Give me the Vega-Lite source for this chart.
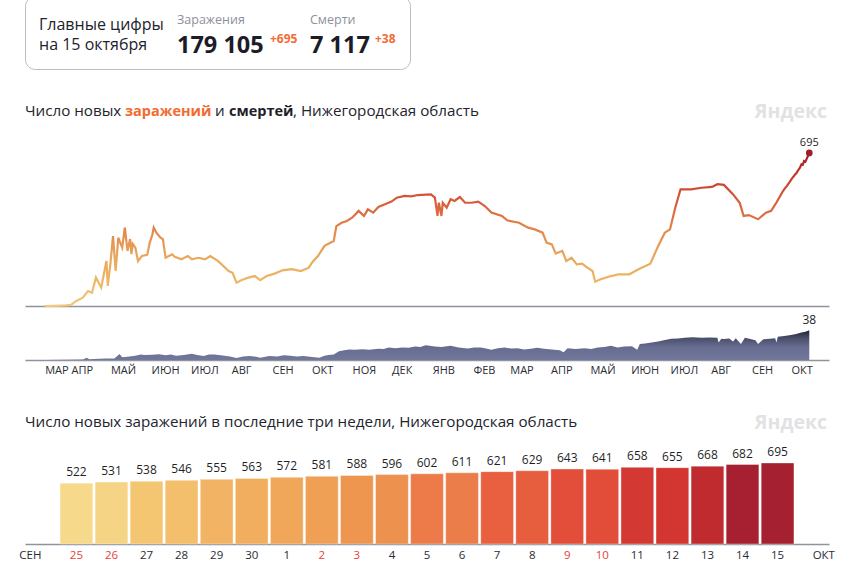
{
  "$schema": "https://vega.github.io/schema/vega-lite/v6.json",
  "padding": {"left": 18, "top": -5, "right": 18, "bottom": 8},
  "bounds": "flush",
  "spacing": 10,
  "datasets": {
    "line": [
      {"date": "2020-03-12", "v": 0}, {"date": "2020-03-20", "v": 1}, {"date": "2020-03-28", "v": 3},
      {"date": "2020-04-01", "v": 5}, {"date": "2020-04-05", "v": 23}, {"date": "2020-04-10", "v": 38},
      {"date": "2020-04-14", "v": 68}, {"date": "2020-04-17", "v": 60}, {"date": "2020-04-20", "v": 129},
      {"date": "2020-04-24", "v": 83}, {"date": "2020-04-28", "v": 204}, {"date": "2020-04-29", "v": 91},
      {"date": "2020-05-01", "v": 191}, {"date": "2020-05-03", "v": 318}, {"date": "2020-05-05", "v": 159},
      {"date": "2020-05-07", "v": 310}, {"date": "2020-05-10", "v": 265}, {"date": "2020-05-12", "v": 356},
      {"date": "2020-05-14", "v": 250}, {"date": "2020-05-16", "v": 304}, {"date": "2020-05-17", "v": 236},
      {"date": "2020-05-18", "v": 282}, {"date": "2020-05-20", "v": 265}, {"date": "2020-05-22", "v": 204},
      {"date": "2020-05-25", "v": 227}, {"date": "2020-05-29", "v": 232}, {"date": "2020-05-31", "v": 288},
      {"date": "2020-06-02", "v": 326}, {"date": "2020-06-03", "v": 356}, {"date": "2020-06-05", "v": 333},
      {"date": "2020-06-08", "v": 311}, {"date": "2020-06-10", "v": 303}, {"date": "2020-06-12", "v": 219},
      {"date": "2020-06-17", "v": 235}, {"date": "2020-06-19", "v": 223}, {"date": "2020-06-24", "v": 212},
      {"date": "2020-06-29", "v": 227}, {"date": "2020-07-02", "v": 212}, {"date": "2020-07-07", "v": 219},
      {"date": "2020-07-12", "v": 212}, {"date": "2020-07-16", "v": 227}, {"date": "2020-07-20", "v": 212},
      {"date": "2020-07-22", "v": 204}, {"date": "2020-07-26", "v": 182}, {"date": "2020-07-30", "v": 159},
      {"date": "2020-08-02", "v": 151}, {"date": "2020-08-05", "v": 106}, {"date": "2020-08-09", "v": 118},
      {"date": "2020-08-14", "v": 129}, {"date": "2020-08-19", "v": 136}, {"date": "2020-08-23", "v": 117},
      {"date": "2020-08-28", "v": 136}, {"date": "2020-09-03", "v": 147}, {"date": "2020-09-09", "v": 162},
      {"date": "2020-09-16", "v": 167}, {"date": "2020-09-23", "v": 159}, {"date": "2020-09-29", "v": 174},
      {"date": "2020-10-02", "v": 201}, {"date": "2020-10-06", "v": 227}, {"date": "2020-10-11", "v": 273},
      {"date": "2020-10-18", "v": 295}, {"date": "2020-10-20", "v": 363}, {"date": "2020-10-24", "v": 378},
      {"date": "2020-10-28", "v": 386}, {"date": "2020-11-01", "v": 401}, {"date": "2020-11-06", "v": 432},
      {"date": "2020-11-10", "v": 409}, {"date": "2020-11-13", "v": 439}, {"date": "2020-11-17", "v": 424},
      {"date": "2020-11-21", "v": 450}, {"date": "2020-11-26", "v": 462}, {"date": "2020-12-01", "v": 474},
      {"date": "2020-12-05", "v": 492}, {"date": "2020-12-11", "v": 500}, {"date": "2020-12-16", "v": 498},
      {"date": "2020-12-21", "v": 504}, {"date": "2020-12-31", "v": 507}, {"date": "2021-01-03", "v": 492},
      {"date": "2021-01-05", "v": 409}, {"date": "2021-01-06", "v": 469}, {"date": "2021-01-08", "v": 409},
      {"date": "2021-01-09", "v": 469}, {"date": "2021-01-12", "v": 447}, {"date": "2021-01-15", "v": 485},
      {"date": "2021-01-18", "v": 477}, {"date": "2021-01-22", "v": 495}, {"date": "2021-01-26", "v": 469},
      {"date": "2021-01-31", "v": 469}, {"date": "2021-02-05", "v": 474}, {"date": "2021-02-10", "v": 454},
      {"date": "2021-02-15", "v": 424}, {"date": "2021-02-23", "v": 409}, {"date": "2021-02-27", "v": 389},
      {"date": "2021-03-08", "v": 378}, {"date": "2021-03-15", "v": 356}, {"date": "2021-03-20", "v": 348},
      {"date": "2021-03-26", "v": 333}, {"date": "2021-03-29", "v": 288}, {"date": "2021-04-02", "v": 280},
      {"date": "2021-04-05", "v": 238}, {"date": "2021-04-10", "v": 250}, {"date": "2021-04-13", "v": 204},
      {"date": "2021-04-17", "v": 219}, {"date": "2021-04-21", "v": 189}, {"date": "2021-04-25", "v": 192},
      {"date": "2021-04-29", "v": 174}, {"date": "2021-05-03", "v": 159}, {"date": "2021-05-05", "v": 110},
      {"date": "2021-05-09", "v": 121}, {"date": "2021-05-17", "v": 136}, {"date": "2021-05-23", "v": 144},
      {"date": "2021-05-31", "v": 144}, {"date": "2021-06-07", "v": 167}, {"date": "2021-06-16", "v": 192},
      {"date": "2021-06-22", "v": 273}, {"date": "2021-06-27", "v": 333}, {"date": "2021-07-01", "v": 348},
      {"date": "2021-07-05", "v": 447}, {"date": "2021-07-09", "v": 530}, {"date": "2021-07-17", "v": 530},
      {"date": "2021-07-25", "v": 537}, {"date": "2021-08-02", "v": 541}, {"date": "2021-08-06", "v": 553},
      {"date": "2021-08-11", "v": 550}, {"date": "2021-08-18", "v": 507}, {"date": "2021-08-23", "v": 469},
      {"date": "2021-08-26", "v": 409}, {"date": "2021-08-30", "v": 413}, {"date": "2021-09-06", "v": 394},
      {"date": "2021-09-12", "v": 424}, {"date": "2021-09-16", "v": 432}, {"date": "2021-09-20", "v": 470},
      {"date": "2021-09-25", "v": 522}, {"date": "2021-09-26", "v": 531}, {"date": "2021-09-27", "v": 538},
      {"date": "2021-09-28", "v": 546}, {"date": "2021-09-29", "v": 555}, {"date": "2021-09-30", "v": 563},
      {"date": "2021-10-01", "v": 572}, {"date": "2021-10-02", "v": 581}, {"date": "2021-10-03", "v": 588},
      {"date": "2021-10-04", "v": 596}, {"date": "2021-10-05", "v": 602}, {"date": "2021-10-06", "v": 611},
      {"date": "2021-10-07", "v": 621}, {"date": "2021-10-08", "v": 629}, {"date": "2021-10-09", "v": 643},
      {"date": "2021-10-10", "v": 641}, {"date": "2021-10-11", "v": 658}, {"date": "2021-10-12", "v": 655},
      {"date": "2021-10-13", "v": 668}, {"date": "2021-10-14", "v": 682}, {"date": "2021-10-15", "v": 695}
    ],
    "deaths": [
      {"date": "2020-03-12", "d": 0}, {"date": "2020-04-10", "d": 0.5}, {"date": "2020-04-13", "d": 3},
      {"date": "2020-04-15", "d": 1}, {"date": "2020-04-22", "d": 1.5}, {"date": "2020-04-28", "d": 2},
      {"date": "2020-05-04", "d": 2}, {"date": "2020-05-08", "d": 7.5}, {"date": "2020-05-10", "d": 3.5},
      {"date": "2020-05-14", "d": 4}, {"date": "2020-05-20", "d": 5.5}, {"date": "2020-05-24", "d": 7},
      {"date": "2020-05-27", "d": 6.5}, {"date": "2020-06-02", "d": 6.7}, {"date": "2020-06-07", "d": 7.2},
      {"date": "2020-06-12", "d": 5.9}, {"date": "2020-06-16", "d": 7}, {"date": "2020-06-20", "d": 5.5},
      {"date": "2020-06-26", "d": 6.5}, {"date": "2020-07-02", "d": 8}, {"date": "2020-07-06", "d": 6.5},
      {"date": "2020-07-11", "d": 5.2}, {"date": "2020-07-15", "d": 7}, {"date": "2020-07-19", "d": 7.1},
      {"date": "2020-07-24", "d": 6}, {"date": "2020-07-31", "d": 4.6}, {"date": "2020-08-05", "d": 2.5},
      {"date": "2020-08-10", "d": 4.5}, {"date": "2020-08-15", "d": 5}, {"date": "2020-08-20", "d": 4},
      {"date": "2020-08-23", "d": 2.8}, {"date": "2020-08-30", "d": 5}, {"date": "2020-09-05", "d": 4.5},
      {"date": "2020-09-10", "d": 6}, {"date": "2020-09-15", "d": 5.5}, {"date": "2020-09-20", "d": 4.5},
      {"date": "2020-09-25", "d": 5}, {"date": "2020-09-30", "d": 4}, {"date": "2020-10-07", "d": 3},
      {"date": "2020-10-11", "d": 5.5}, {"date": "2020-10-14", "d": 6.5}, {"date": "2020-10-18", "d": 7},
      {"date": "2020-10-22", "d": 11}, {"date": "2020-10-26", "d": 12.5}, {"date": "2020-10-30", "d": 13.4},
      {"date": "2020-11-03", "d": 13}, {"date": "2020-11-09", "d": 13.8}, {"date": "2020-11-14", "d": 13.2},
      {"date": "2020-11-21", "d": 14.2}, {"date": "2020-11-25", "d": 14}, {"date": "2020-11-29", "d": 15.9},
      {"date": "2020-12-04", "d": 15}, {"date": "2020-12-09", "d": 15.9}, {"date": "2020-12-14", "d": 15.5},
      {"date": "2020-12-19", "d": 17.2}, {"date": "2020-12-23", "d": 16.5}, {"date": "2020-12-27", "d": 18.8},
      {"date": "2021-01-03", "d": 17.2}, {"date": "2021-01-08", "d": 16.5}, {"date": "2021-01-15", "d": 18},
      {"date": "2021-01-21", "d": 16}, {"date": "2021-01-28", "d": 14.6}, {"date": "2021-02-02", "d": 16},
      {"date": "2021-02-07", "d": 15.9}, {"date": "2021-02-11", "d": 14.5}, {"date": "2021-02-15", "d": 13},
      {"date": "2021-02-20", "d": 15}, {"date": "2021-02-25", "d": 15.9}, {"date": "2021-03-02", "d": 14.5},
      {"date": "2021-03-07", "d": 15}, {"date": "2021-03-12", "d": 13.5}, {"date": "2021-03-17", "d": 14.2},
      {"date": "2021-03-22", "d": 15.5}, {"date": "2021-03-27", "d": 14.2}, {"date": "2021-04-04", "d": 13},
      {"date": "2021-04-08", "d": 12.5}, {"date": "2021-04-11", "d": 10}, {"date": "2021-04-14", "d": 15},
      {"date": "2021-04-20", "d": 14}, {"date": "2021-04-27", "d": 15}, {"date": "2021-05-02", "d": 14},
      {"date": "2021-05-07", "d": 15.9}, {"date": "2021-05-12", "d": 16.5}, {"date": "2021-05-17", "d": 18},
      {"date": "2021-05-22", "d": 16}, {"date": "2021-05-27", "d": 17.2}, {"date": "2021-06-02", "d": 17.5},
      {"date": "2021-06-06", "d": 13}, {"date": "2021-06-08", "d": 20.5}, {"date": "2021-06-12", "d": 21},
      {"date": "2021-06-17", "d": 22.2}, {"date": "2021-06-22", "d": 23.5}, {"date": "2021-06-27", "d": 25.5},
      {"date": "2021-07-02", "d": 27}, {"date": "2021-07-07", "d": 27.5}, {"date": "2021-07-12", "d": 28.4},
      {"date": "2021-07-18", "d": 28.8}, {"date": "2021-07-25", "d": 28.4}, {"date": "2021-07-31", "d": 28.6},
      {"date": "2021-08-06", "d": 28.4}, {"date": "2021-08-07", "d": 22.2}, {"date": "2021-08-09", "d": 27},
      {"date": "2021-08-11", "d": 26.8}, {"date": "2021-08-15", "d": 27.5}, {"date": "2021-08-18", "d": 23.4},
      {"date": "2021-08-20", "d": 27.6}, {"date": "2021-08-24", "d": 20.5}, {"date": "2021-08-27", "d": 28.4},
      {"date": "2021-09-01", "d": 26.4}, {"date": "2021-09-04", "d": 25}, {"date": "2021-09-06", "d": 20.5},
      {"date": "2021-09-10", "d": 26.4}, {"date": "2021-09-15", "d": 27}, {"date": "2021-09-19", "d": 27.6},
      {"date": "2021-09-20", "d": 22.2}, {"date": "2021-09-21", "d": 29.7}, {"date": "2021-09-26", "d": 30.5},
      {"date": "2021-10-01", "d": 31.8}, {"date": "2021-10-05", "d": 33}, {"date": "2021-10-09", "d": 35.1},
      {"date": "2021-10-12", "d": 36}, {"date": "2021-10-15", "d": 38}
    ],
    "bars": [
      {"day": "25", "v": 522}, {"day": "26", "v": 531}, {"day": "27", "v": 538}, {"day": "28", "v": 546},
      {"day": "29", "v": 555}, {"day": "30", "v": 563}, {"day": "1", "v": 572}, {"day": "2", "v": 581},
      {"day": "3", "v": 588}, {"day": "4", "v": 596}, {"day": "5", "v": 602}, {"day": "6", "v": 611},
      {"day": "7", "v": 621}, {"day": "8", "v": 629}, {"day": "9", "v": 643}, {"day": "10", "v": 641},
      {"day": "11", "v": 658}, {"day": "12", "v": 655}, {"day": "13", "v": 668}, {"day": "14", "v": 682},
      {"day": "15", "v": 695}
    ]
  },
  "vconcat": [
    {
      "width": 385,
      "height": 73,
      "view": {"stroke": "#b9bdc6", "strokeWidth": 1, "cornerRadius": 10},
      "data": {"values": [{}]},
      "layer": [
        {"mark": {"type": "text", "text": "Главные цифры", "align": "left", "baseline": "alphabetic", "fontSize": 16, "color": "#23232d"},
         "encoding": {"x": {"value": 14}, "y": {"value": 34}}},
        {"mark": {"type": "text", "text": "на 15 октября", "align": "left", "baseline": "alphabetic", "fontSize": 16, "color": "#23232d"},
         "encoding": {"x": {"value": 14}, "y": {"value": 54}}},
        {"mark": {"type": "text", "text": "Заражения", "align": "left", "baseline": "alphabetic", "fontSize": 12.5, "color": "#8d919b"},
         "encoding": {"x": {"value": 152}, "y": {"value": 28}}},
        {"mark": {"type": "text", "text": "179 105", "align": "left", "baseline": "alphabetic", "fontSize": 23.5, "fontWeight": "bold", "color": "#1c1c28"},
         "encoding": {"x": {"value": 152}, "y": {"value": 57}}},
        {"mark": {"type": "text", "text": "+695", "align": "left", "baseline": "alphabetic", "fontSize": 12, "fontWeight": "bold", "color": "#f36c37"},
         "encoding": {"x": {"value": 245}, "y": {"value": 47}}},
        {"mark": {"type": "text", "text": "Смерти", "align": "left", "baseline": "alphabetic", "fontSize": 12.5, "color": "#8d919b"},
         "encoding": {"x": {"value": 285}, "y": {"value": 28}}},
        {"mark": {"type": "text", "text": "7 117", "align": "left", "baseline": "alphabetic", "fontSize": 23.5, "fontWeight": "bold", "color": "#1c1c28"},
         "encoding": {"x": {"value": 285}, "y": {"value": 57}}},
        {"mark": {"type": "text", "text": "+38", "align": "left", "baseline": "alphabetic", "fontSize": 12, "fontWeight": "bold", "color": "#f36c37"},
         "encoding": {"x": {"value": 350}, "y": {"value": 47}}}
      ]
    },
    {
      "width": 804,
      "height": 227,
      "layer": [
        {
          "data": {"name": "line"},
          "mark": {
            "type": "line",
            "strokeWidth": 2.2,
            "stroke": {
              "gradient": "linear", "x1": 0, "y1": 1, "x2": 0, "y2": 0,
              "stops": [
                {"offset": 0, "color": "#f2c77a"},
                {"offset": 0.18, "color": "#ecb563"},
                {"offset": 0.32, "color": "#e9a85c"},
                {"offset": 0.45, "color": "#e4904f"},
                {"offset": 0.55, "color": "#e07a46"},
                {"offset": 0.65, "color": "#da633d"},
                {"offset": 0.75, "color": "#d24f34"},
                {"offset": 0.82, "color": "#c9422f"},
                {"offset": 0.9, "color": "#b83129"},
                {"offset": 1, "color": "#9e1c2c"}
              ]
            }
          },
          "encoding": {
            "x": {
              "field": "date", "type": "temporal",
              "scale": {"type": "utc", "nice": false, "domain": [{"year": 2020, "month": 2, "date": 26, "utc": true}, {"year": 2021, "month": 10, "date": 30, "utc": true}]},
              "axis": {"labels": false, "ticks": false, "grid": false, "title": null, "domainColor": "#8f939d", "domainWidth": 1.5}
            },
            "y": {"field": "v", "type": "quantitative", "scale": {"domain": [0, 1031], "nice": false}, "axis": null}
          }
        },
        {
          "data": {"name": "line"},
          "transform": [{"filter": "datum.v == 695"}],
          "mark": {"type": "point", "filled": true, "size": 45, "color": "#a11d2b", "opacity": 1},
          "encoding": {
            "x": {"field": "date", "type": "temporal"},
            "y": {"field": "v", "type": "quantitative"}
          }
        },
        {
          "data": {"name": "line"},
          "transform": [{"filter": "datum.v == 695"}],
          "mark": {"type": "text", "baseline": "bottom", "dy": -5, "fontSize": 11, "color": "#1f1f28"},
          "encoding": {
            "x": {"field": "date", "type": "temporal"},
            "y": {"field": "v", "type": "quantitative"},
            "text": {"field": "v"}
          }
        },
        {"data": {"values": [{}]}, "mark": {"type": "text", "text": "Число новых ", "align": "left", "baseline": "alphabetic", "fontSize": 15.2, "color": "#23232d"},
         "encoding": {"x": {"value": 0}, "y": {"value": 37}}},
        {"data": {"values": [{}]}, "mark": {"type": "text", "text": "заражений", "align": "left", "baseline": "alphabetic", "fontSize": 14.5, "fontWeight": "bold", "color": "#f26b2f", "dx": 100},
         "encoding": {"x": {"value": 0}, "y": {"value": 37}}},
        {"data": {"values": [{}]}, "mark": {"type": "text", "text": "и", "align": "left", "baseline": "alphabetic", "fontSize": 15.2, "color": "#23232d", "dx": 190},
         "encoding": {"x": {"value": 0}, "y": {"value": 37}}},
        {"data": {"values": [{}]}, "mark": {"type": "text", "text": "смертей", "align": "left", "baseline": "alphabetic", "fontSize": 14.5, "fontWeight": "bold", "color": "#1e1e2a", "dx": 204},
         "encoding": {"x": {"value": 0}, "y": {"value": 37}}},
        {"data": {"values": [{}]}, "mark": {"type": "text", "text": ", Нижегородская область", "align": "left", "baseline": "alphabetic", "fontSize": 15.2, "color": "#23232d", "dx": 268},
         "encoding": {"x": {"value": 0}, "y": {"value": 37}}},
        {"data": {"values": [{}]}, "mark": {"type": "text", "text": "Яндекс", "align": "right", "baseline": "alphabetic", "fontSize": 19.5, "fontWeight": "bold", "color": "#e2e2e4"},
         "encoding": {"x": {"value": 802}, "y": {"value": 39}}}
      ]
    },
    {
      "width": 804,
      "height": 44,
      "data": {"name": "deaths"},
      "layer": [
        {
          "mark": {
            "type": "area",
            "color": {
              "gradient": "linear", "x1": 0, "y1": 1, "x2": 0, "y2": 0,
              "stops": [
                {"offset": 0, "color": "#72779c"},
                {"offset": 0.45, "color": "#666b90"},
                {"offset": 0.75, "color": "#484c68"},
                {"offset": 1, "color": "#1f2135"}
              ]
            }
          },
          "encoding": {
            "x": {
              "field": "date", "type": "temporal",
              "scale": {"type": "utc", "nice": false, "domain": [{"year": 2020, "month": 2, "date": 26, "utc": true}, {"year": 2021, "month": 10, "date": 30, "utc": true}]},
              "axis": {
                "values": [
                  {"year": 2020, "month": 3, "date": 12, "utc": true},
                  {"year": 2020, "month": 4, "date": 1, "utc": true},
                  {"year": 2020, "month": 5, "date": 1, "utc": true},
                  {"year": 2020, "month": 6, "date": 1, "utc": true},
                  {"year": 2020, "month": 7, "date": 1, "utc": true},
                  {"year": 2020, "month": 8, "date": 1, "utc": true},
                  {"year": 2020, "month": 9, "date": 1, "utc": true},
                  {"year": 2020, "month": 10, "date": 1, "utc": true},
                  {"year": 2020, "month": 11, "date": 1, "utc": true},
                  {"year": 2020, "month": 12, "date": 1, "utc": true},
                  {"year": 2021, "month": 1, "date": 1, "utc": true},
                  {"year": 2021, "month": 2, "date": 1, "utc": true},
                  {"year": 2021, "month": 3, "date": 1, "utc": true},
                  {"year": 2021, "month": 4, "date": 1, "utc": true},
                  {"year": 2021, "month": 5, "date": 1, "utc": true},
                  {"year": 2021, "month": 6, "date": 1, "utc": true},
                  {"year": 2021, "month": 7, "date": 1, "utc": true},
                  {"year": 2021, "month": 8, "date": 1, "utc": true},
                  {"year": 2021, "month": 9, "date": 1, "utc": true},
                  {"year": 2021, "month": 10, "date": 1, "utc": true}
                ],
                "labelExpr": "['ЯНВ','ФЕВ','МАР','АПР','МАЙ','ИЮН','ИЮЛ','АВГ','СЕН','ОКТ','НОЯ','ДЕК'][utcmonth(datum.value)]",
                "labelAlign": "left",
                "labelPadding": 4,
                "labelFontSize": 11,
                "labelColor": "#2b2b33",
                "labelOverlap": false,
                "labelFlush": false,
                "ticks": false,
                "grid": false,
                "title": null,
                "domainColor": "#8f939d",
                "domainWidth": 1.5
              }
            },
            "y": {"field": "d", "type": "quantitative", "scale": {"domain": [0, 56], "nice": false}, "axis": null}
          }
        },
        {
          "transform": [{"filter": "datum.d == 38"}],
          "mark": {"type": "text", "baseline": "bottom", "dy": -3, "fontSize": 12, "color": "#1f1f28"},
          "encoding": {
            "x": {"field": "date", "type": "temporal"},
            "y": {"field": "d", "type": "quantitative"},
            "text": {"field": "d"}
          }
        }
      ]
    },
    {
      "width": 804,
      "height": 174,
      "layer": [
        {
          "data": {"name": "bars"},
          "mark": {"type": "bar", "stroke": "#ffffff", "strokeOpacity": 0.35, "strokeWidth": 1},
          "encoding": {
            "x": {
              "field": "day", "type": "nominal", "sort": null,
              "scale": {
                "domain": ["СЕН", "25", "26", "27", "28", "29", "30", "1", "2", "3", "4", "5", "6", "7", "8", "9", "10", "11", "12", "13", "14", "15", "ОКТ"],
                "paddingInner": 0.066, "paddingOuter": 0
              },
              "axis": {
                "title": null,
                "ticks": false,
                "labelAngle": 0,
                "labelPadding": 5,
                "labelFontSize": 11.5,
                "labelAlign": {"expr": "datum.value == 'СЕН' ? 'right' : datum.value == 'ОКТ' ? 'left' : 'center'"},
                "labelColor": {"expr": "indexof(['25','26','2','3','9','10'], datum.value) >= 0 ? '#e8413c' : '#2b2b33'"},
                "domainColor": "#8f939d",
                "domainWidth": 1.5
              }
            },
            "y": {"field": "v", "type": "quantitative", "scale": {"domain": [0, 1493], "nice": false}, "axis": null},
            "color": {
              "field": "day", "type": "nominal", "legend": null,
              "scale": {
                "domain": ["25", "26", "27", "28", "29", "30", "1", "2", "3", "4", "5", "6", "7", "8", "9", "10", "11", "12", "13", "14", "15"],
                "range": ["#f7d98b", "#f6d485", "#f4c672", "#f3bf6c", "#f2b464", "#f1ae5f", "#f0a75a", "#efa055", "#ee9650", "#ed914f", "#ec7b49", "#eb7d4a", "#e8603f", "#e75e3f", "#e24e39", "#e14d39", "#d43832", "#d33630", "#bf2b2f", "#a62031", "#a52030"]
              }
            }
          }
        },
        {
          "data": {"name": "bars"},
          "mark": {"type": "text", "baseline": "bottom", "dy": -4, "fontSize": 12, "color": "#1f1f28"},
          "encoding": {
            "x": {"field": "day", "type": "nominal", "sort": null},
            "y": {"field": "v", "type": "quantitative"},
            "text": {"field": "v"}
          }
        },
        {"data": {"values": [{}]}, "mark": {"type": "text", "text": "Число новых заражений в последние три недели, Нижегородская область", "align": "left", "baseline": "alphabetic", "fontSize": 15.2, "color": "#23232d"},
         "encoding": {"x": {"value": 0}, "y": {"value": 57}}},
        {"data": {"values": [{}]}, "mark": {"type": "text", "text": "Яндекс", "align": "right", "baseline": "alphabetic", "fontSize": 19.5, "fontWeight": "bold", "color": "#e2e2e4"},
         "encoding": {"x": {"value": 802}, "y": {"value": 59}}}
      ]
    }
  ],
  "config": {
    "font": "Open Sans",
    "view": {"stroke": null},
    "background": "#ffffff"
  }
}
